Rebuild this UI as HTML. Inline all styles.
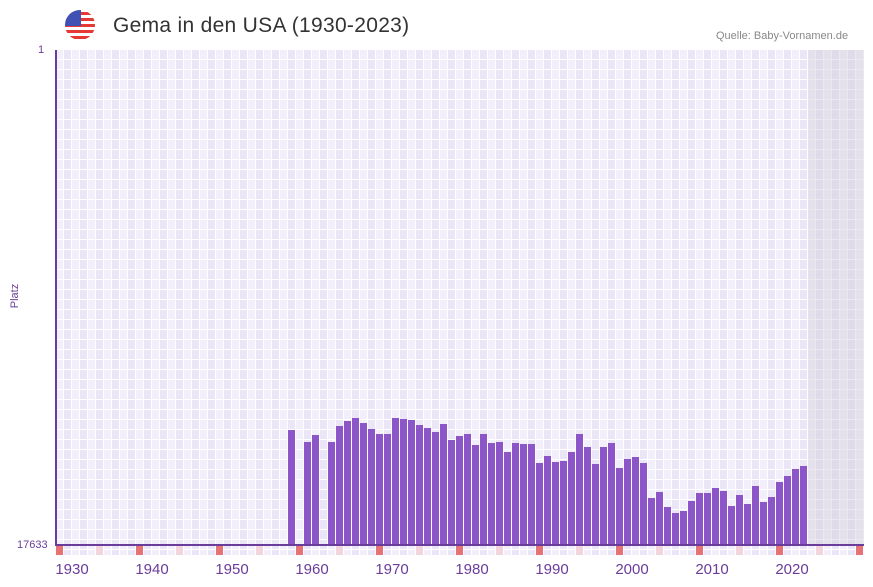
<!DOCTYPE html><html><head><style>
body{margin:0;width:873px;height:587px;background:#fff;font-family:"Liberation Sans",sans-serif;position:relative;overflow:hidden}
.a{position:absolute}
#grid{left:56px;top:50px;width:808px;height:505px;background-color:#eee9f9;
background-image:repeating-linear-gradient(180deg,transparent 0 9px,#fff 9px 10px),repeating-linear-gradient(90deg,#f2eefb 0 7px,#fff 7px 8px,#ebe5f8 8px 15px,#fff 15px 16px)}
#shade{left:808px;top:50px;width:56px;height:495px;background-color:#e2deeb;
background-image:repeating-linear-gradient(180deg,transparent 0 9px,#ebe8f0 9px 10px),repeating-linear-gradient(90deg,#e4e0ec 0 7px,#ebe8f0 7px 8px,#dfdbe9 8px 15px,#ebe8f0 15px 16px)}
.b{position:absolute;background:#8c55c8;width:7px}
.t{color:#6a3d9a;font-size:15px}
</style></head><body>
<div class="a" id="grid"></div><div class="a" id="shade"></div>
<div class="a" style="left:55px;top:50px;width:2px;height:496px;background:#6a3d9a"></div>
<div class="a" style="left:55px;top:544px;width:809px;height:2px;background:#6a3d9a"></div>
<div id="bars"></div>
<div id="marks"></div>
<svg class="a" style="left:64px;top:9px" width="32" height="32" viewBox="0 0 32 32"><defs><clipPath id="c"><circle cx="16" cy="16" r="15"/></clipPath></defs><g clip-path="url(#c)"><rect width="32" height="32" fill="#fff"/><rect y="3" width="32" height="3" fill="#e53935"/><rect y="9" width="32" height="3" fill="#e53935"/><rect y="15" width="32" height="3" fill="#e53935"/><rect y="21" width="32" height="3" fill="#e53935"/><rect y="27" width="32" height="3" fill="#e53935"/><rect width="17" height="17" fill="#3f51b5"/></g></svg>
<div class="a" style="left:113px;top:14px;font-size:21px;color:#333;letter-spacing:0.3px">Gema in den USA (1930-2023)</div>
<div class="a" style="left:716px;top:30px;font-size:11px;color:#888">Quelle: Baby-Vornamen.de</div>
<div class="a" style="left:38px;top:44px;font-size:11px;color:#6a3d9a">1</div>
<div class="a" style="left:17px;top:539px;font-size:11px;color:#6a3d9a">17633</div>
<div class="a" style="left:0px;top:290px;font-size:11px;color:#6a3d9a;transform:rotate(-90deg);width:30px;text-align:center">Platz</div>
<div id="xl"></div>
<script>
var tops={288:430,304:442,312:435,328:442,336:426,344:421,352:418,360:423,368:429,376:434,384:434,392:418,400:419,408:420,416:425,424:428,432:432,440:424,448:440,456:436,464:434,472:445,480:434,488:443,496:442,504:452,512:443,520:444,528:444,536:463,544:456,552:462,560:461,568:452,576:434,584:447,592:464,600:447,608:443,616:468,624:459,632:457,640:463,648:498,656:492,664:507,672:513,680:511,688:501,696:493,704:493,712:488,720:491,728:506,736:495,744:504,752:486,760:502,768:497,776:482,784:476,792:469,800:466};
var h='';for(var x in tops){h+='<div class="b" style="left:'+x+'px;top:'+tops[x]+'px;height:'+(544-tops[x])+'px"></div>';}
document.getElementById('bars').innerHTML=h;
var m='';for(var i=0;i<101;i+=5){m+='<div class="a" style="left:'+(56+8*i)+'px;top:546px;width:7px;height:9px;background:'+(i%10==0?'#e57373':'#f3d5de')+'"></div>';}
document.getElementById('marks').innerHTML=m;
var l='';for(var y=1930;y<=2020;y+=10){var cx=72+(y-1930)*8;l+='<div class="a t" style="left:'+(cx-30)+'px;width:60px;text-align:center;top:561px">'+y+'</div>';}
document.getElementById('xl').innerHTML=l;
</script>
</body></html>
